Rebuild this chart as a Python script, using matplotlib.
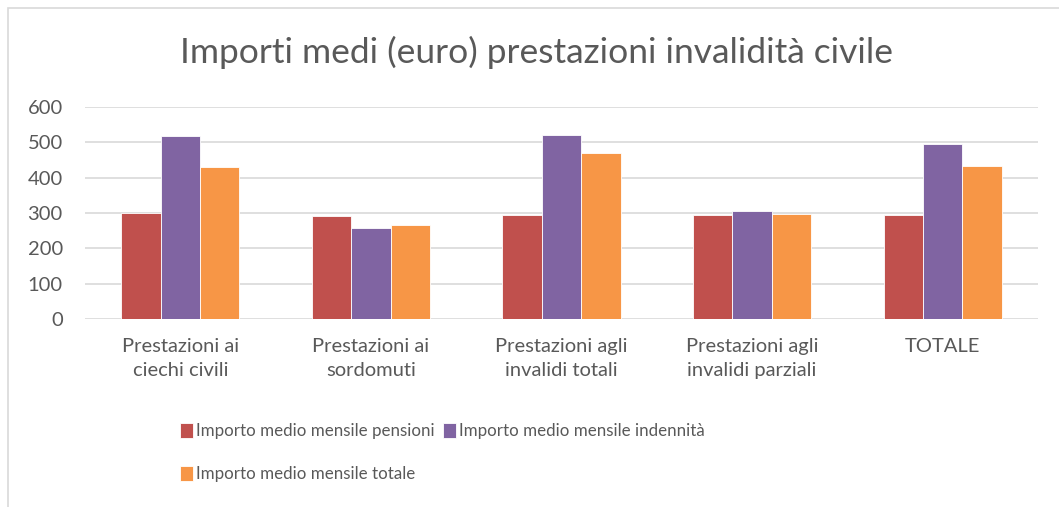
import numpy as np
import matplotlib.pyplot as plt
import matplotlib as mpl
from matplotlib.patches import Rectangle

mpl.rcParams['font.family'] = ['Lato', 'DejaVu Sans']

# data
categories = ['Prestazioni ai\nciechi civili', 'Prestazioni ai\nsordomuti',
              'Prestazioni agli\ninvalidi totali', 'Prestazioni agli\ninvalidi parziali',
              'TOTALE']
pensioni = [300, 292, 294, 294, 295]
indennita = [518, 257, 520, 306, 496]
totale = [430, 265, 470, 298, 433]

series_names = ['Importo medio mensile pensioni',
                'Importo medio mensile indennità',
                'Importo medio mensile totale']
colors = ['#C0504D', '#8064A2', '#F79646']
grey = '#595959'

fig = plt.figure(figsize=(10.59, 5.07), dpi=100)
W, H = 1059, 507

# chart frame (only top and left edges visible in the crop)
fig.patches.append(Rectangle((8 / W, -0.1), 1.2, 1 - 8 / H + 0.1,
                             transform=fig.transFigure, fill=False,
                             edgecolor='#D9D9D9', linewidth=1.2))

ax = fig.add_axes([85 / W, 1 - 319 / H, (1038 - 85) / W, (319 - 107) / H])

x = np.arange(len(categories))
w = 0.207
handles = []
for i, (vals, c) in enumerate(zip([pensioni, indennita, totale], colors)):
    b = ax.bar(x + (i - 1) * w, vals, width=w, color=c, edgecolor='white',
               linewidth=0.6, zorder=3, label=series_names[i])
    handles.append(b)

ax.set_xlim(-0.5, len(categories) - 0.5)
ax.set_ylim(0, 600)
ax.set_yticks(range(0, 601, 100))
ax.set_xticks(x)
ax.set_xticklabels(categories, fontsize=14.5, color=grey, linespacing=1.45)
ax.tick_params(axis='y', labelsize=14.5, labelcolor=grey, length=0, pad=16)
ax.tick_params(axis='x', length=0, pad=14)
ax.grid(axis='y', color='#D9D9D9', linewidth=1.2, zorder=0)
for s in ax.spines.values():
    s.set_visible(False)

fig.text(536 / W, 1 - 52 / H, 'Importi medi (euro) prestazioni invalidità civile',
         ha='center', va='center', fontsize=25.5, color=grey)

# legend filled row by row: reorder for column-major filling
order = [0, 2, 1]
fig.legend([handles[i] for i in order], [series_names[i] for i in order],
           ncol=2, loc='upper left', bbox_to_anchor=(180 / W, 1 - 423 / H),
           frameon=False, fontsize=12.2, labelcolor=grey, handlelength=0.75,
           handleheight=0.95, handletextpad=0.2, columnspacing=0.5,
           labelspacing=1.6, borderpad=0, borderaxespad=0)

fig.savefig('out.png', dpi=100)
